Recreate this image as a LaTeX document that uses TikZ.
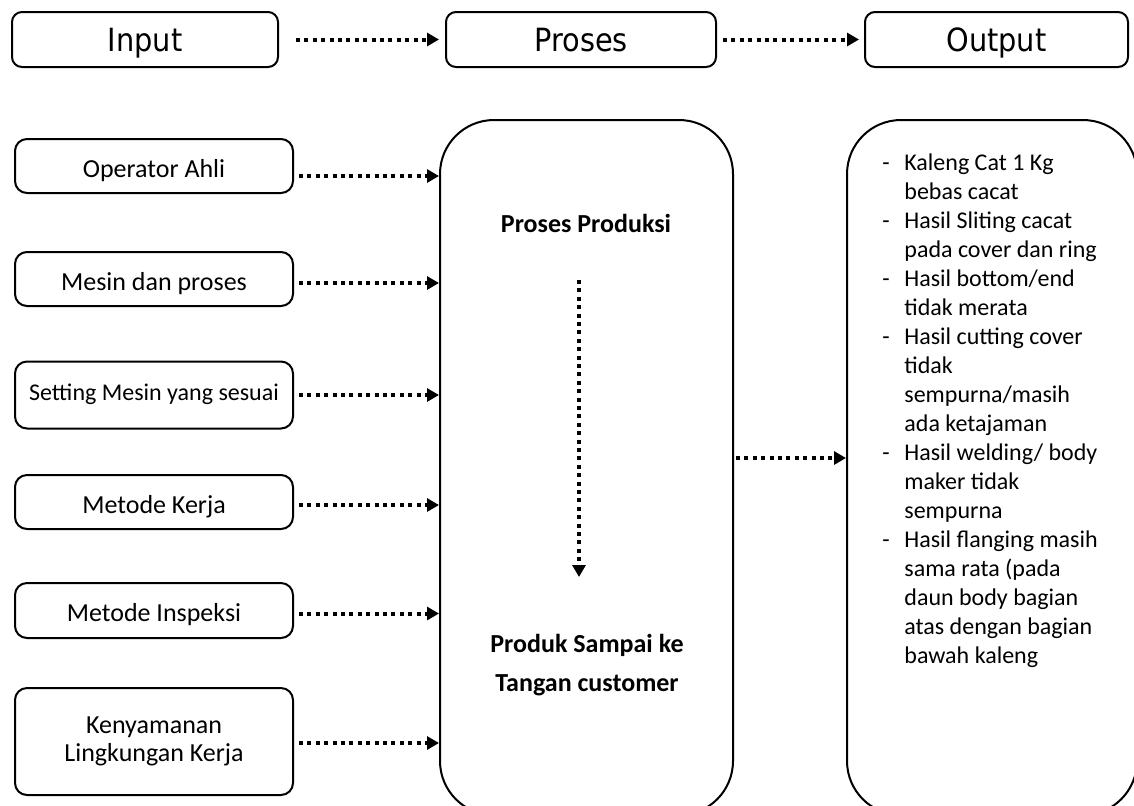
\documentclass[tikz,border=0pt]{standalone}
\usepackage{fontspec}
\setmainfont{Carlito}
\newfontfamily\topfont[FakeStretch=0.9]{DejaVu Sans}
\usetikzlibrary{arrows.meta}
\begin{document}
\begin{tikzpicture}[x=0.5pt,y=-0.5pt,
  topbox/.style={draw,line width=1pt,rounded corners=5pt,minimum height=27.5pt,inner sep=0pt,text height=11.7pt,text depth=0pt,font=\topfont\fontsize{16}{19}\selectfont},
  inbox/.style={draw,line width=1pt,rounded corners=6pt,minimum width=139pt,inner sep=0pt,font=\fontsize{13}{14}\selectfont},
  oneline/.style={text height=12pt,text depth=1pt},
  bigbox/.style={draw,line width=1pt,rounded corners=27pt,inner sep=0pt,minimum height=347.5pt},
  dotarrow/.style={line width=2pt,dash pattern=on 2pt off 2.2pt,-{Triangle[length=6pt,width=6.5pt]}},
  boldtext/.style={font=\bfseries\fontsize{13}{19.5}\selectfont,align=center,inner sep=0pt}
]
\path[use as bounding box,clip] (0,0) rectangle (1134,805);
\fill[white] (0,0) rectangle (1134,805);

% top row
\node[topbox,minimum width=133pt] (tin) at (145,39.5) {Input};
\node[topbox,minimum width=135pt] (tpr) at (581,39.5) {Proses};
\node[topbox,minimum width=131.5pt] (tout) at (996.5,39.5) {Output};
\draw[dotarrow,shorten <=8.5pt,shorten >=3pt] (tin) -- (tpr);
\draw[dotarrow,shorten <=3pt,shorten >=2.5pt] (tpr) -- (tout);

% big boxes
\node[bigbox,minimum width=146.5pt] (big) at (586.5,467.5) {};
\node[bigbox,minimum width=145pt] (out) at (992,467.5) {};

% left boxes
\node[inbox,oneline,minimum height=27pt] (op) at (154,166) {Operator Ahli};
\node[inbox,oneline,minimum height=27pt] (ms) at (154,279) {Mesin dan proses};
\node[inbox,minimum height=33.5pt,text height=8.4pt,text depth=3.4pt,font=\fontsize{12}{14}\selectfont] (st) at (154,395) {Setting Mesin yang sesuai};
\node[inbox,oneline,minimum height=27pt] (mk) at (154,502) {Metode Kerja};
\node[inbox,oneline,minimum height=27.5pt] (mi) at (154,610.5) {Metode Inspeksi};
\node[inbox,align=center,minimum height=53.5pt] (ky) at (154,741.5) {Kenyamanan\\[0pt]Lingkungan Kerja};

\draw[dotarrow,shorten <=2.5pt] ([yshift=-5pt]op.east) -- ([yshift=-5pt]op.east -| big.west);
\draw[dotarrow,shorten <=2.5pt] ([yshift=-2pt]ms.east) -- ([yshift=-2pt]ms.east -| big.west);
\draw[dotarrow,shorten <=2.5pt] (st.east) -- (st.east -| big.west);
\draw[dotarrow,shorten <=2.5pt] ([yshift=-1.5pt]mk.east) -- ([yshift=-1.5pt]mk.east -| big.west);
\draw[dotarrow,shorten <=2.5pt] ([yshift=-1.5pt]mi.east) -- ([yshift=-1.5pt]mi.east -| big.west);
\draw[dotarrow,shorten <=2.5pt] ([yshift=-0.75pt]ky.east) -- ([yshift=-0.75pt]ky.east -| big.west);

% middle box content
\node[boldtext] (pp) at (586,223) {Proses Produksi};
\node[boldtext] (psk) at (587,665) {Produk Sampai ke\\Tangan customer};
\coordinate (va1) at (579,280);
\coordinate (va2) at (579,577);
\draw[dotarrow] (va1) -- (va2);

% middle to output
\draw[dotarrow,shorten <=1pt] ([yshift=4.75pt]big.east) -- ([yshift=4.75pt]big.east -| out.west);

% output list
\node[anchor=north west,inner sep=0pt,font=\fontsize{12}{14.5}\selectfont] (lst) at (882,150) {%
\begin{tabular}{@{}p{11pt}@{}l@{}}
- & Kaleng Cat 1 Kg\\
  & bebas cacat\\
- & Hasil Sliting cacat\\
  & pada cover dan ring\\
- & Hasil bottom/end\\
  & tidak merata\\
- & Hasil cutting cover\\
  & tidak\\
  & sempurna/masih\\
  & ada ketajaman\\
- & Hasil welding/ body\\
  & maker tidak\\
  & sempurna\\
- & Hasil flanging masih\\
  & sama rata (pada\\
  & daun body bagian\\
  & atas dengan bagian\\
  & bawah kaleng
\end{tabular}};
\end{tikzpicture}
\end{document}
